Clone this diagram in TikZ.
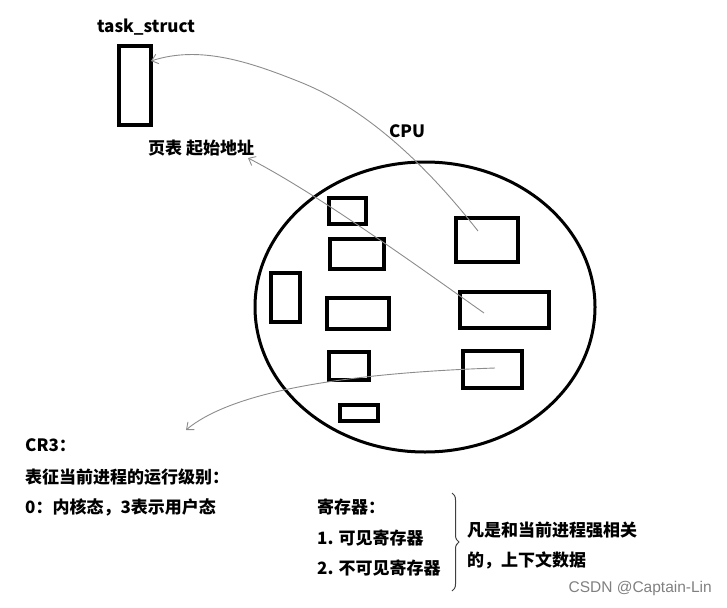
\documentclass[tikz,border=0pt]{standalone}
\usepackage{fontspec}
\setmainfont{Noto Sans CJK SC}
\newfontfamily\wmfont{Liberation Sans}
\usetikzlibrary{arrows.meta,decorations.pathreplacing}
\begin{document}
\begin{tikzpicture}[x=1pt,y=-1pt,
  box/.style={draw=black,line width=3.4pt},
  thin/.style={draw=black!45,line width=0.9pt},
  lbl/.style={font=\fontsize{17}{20}\selectfont\bfseries,inner sep=0pt,anchor=west},
  tip/.style={-{Straight Barb[length=6pt,width=10pt]}}]
\useasboundingbox (0,0) rectangle (727,607);
% task_struct
\node[lbl,anchor=center] (tsl) at (146,27) {task\_struct};
\draw[box] (119,46) rectangle (151,125);
\coordinate (tsin) at (151,61);
% CPU ellipse
\node[lbl,anchor=center] (cpu) at (407,131) {CPU};
\draw[line width=3pt] (425,307) ellipse [x radius=170, y radius=145];
% registers inside
\draw[box] (329,198) rectangle (366,224);
\draw[box] (330,239) rectangle (384,269);
\draw[box] (271,273) rectangle (300,322);
\draw[box] (327,298) rectangle (389,329);
\draw[box] (329,352) rectangle (369,380);
\draw[box] (340,405) rectangle (378,421);
\draw[box] (456,218) rectangle (518,262);
\draw[box] (460,292) rectangle (549,328);
\draw[box] (463,351) rectangle (522,388);
\coordinate (r7) at (478,231);
\coordinate (r8) at (484,313);
\coordinate (r9) at (495,368);
\coordinate (via) at (300,82);
% page table label
\node[lbl] (pt) at (148,148) {页表\ 起始地址};
\coordinate (ptin) at (248,158);
% connectors
\draw[thin,tip] (r7) .. controls (430,170) and (370,110) .. (via)
  .. controls (250,62) and (200,45) .. (tsin);
\draw[thin,tip] (r8) .. controls (430,275) and (320,195) .. (ptin);
\draw[thin,tip] (r9) .. controls (380,372) and (240,385) .. (186,430);
% CR3 text
\node[lbl] (cr3) at (25,445) {CR3：};
\node[lbl] (cr3a) at (25,477) {表征当前进程的运行级别：};
\node[lbl] (cr3b) at (25,507) {0：内核态，3表示用户态};
% registers text
\node[lbl] (reg) at (317,507) {寄存器：};
\node[lbl] (reg1) at (317,538) {1. 可见寄存器};
\node[lbl] (reg2) at (317,568) {2. 不可见寄存器};
\draw[black!75,line width=1pt,decorate,decoration={brace,amplitude=7pt}] (452,493) -- (452,591);
\node[lbl] (ctx1) at (467,530) {凡是和当前进程强相关};
\node[lbl] (ctx2) at (467,560) {的，上下文数据};
\node[inner sep=0pt,anchor=east,text=black!50,font=\wmfont\fontsize{15.5}{18}\selectfont] (wm) at (712,588) {CSDN @Captain-Lin};
\end{tikzpicture}
\end{document}
